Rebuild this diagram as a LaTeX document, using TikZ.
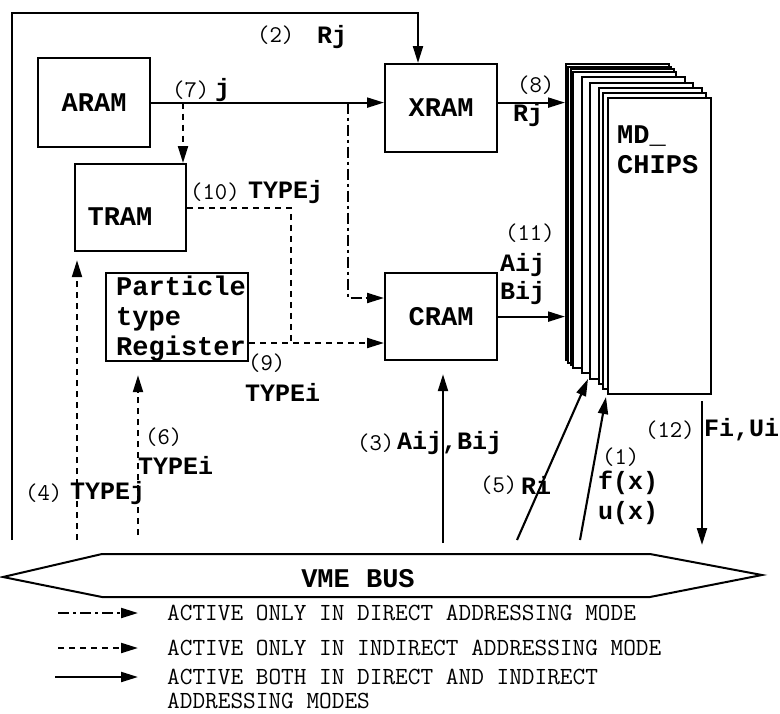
\documentclass[tikz,border=0pt]{standalone}
\usepackage{fontspec}
\newfontfamily\bmono{Liberation Mono}
\usetikzlibrary{arrows.meta}
\begin{document}
\begin{tikzpicture}[x=1pt,y=-1pt,
  box/.style={draw, line width=2.2pt, inner sep=0pt, anchor=north west},
  conn/.style={line width=2.1pt, -{Triangle[length=17pt,width=10pt]}},
  dline/.style={line width=2.1pt, dash pattern=on 6pt off 5pt},
  dsh/.style={conn, dash pattern=on 6pt off 5pt},
  dd/.style={conn, dash pattern=on 11pt off 4pt on 3pt off 4pt},
  lab/.style={font=\ttfamily\fontsize{24}{27}\selectfont, inner sep=0pt, anchor=west},
  blab/.style={font=\bmono\bfseries\fontsize{25}{27}\selectfont, inner sep=0pt, anchor=west},
  boxtxt/.style={font=\bmono\bfseries\fontsize{27}{30}\selectfont, inner sep=0pt},
  legtxt/.style={font=\ttfamily\fontsize{24.6}{27}\selectfont, inner sep=0pt, anchor=west},
]
\path[use as bounding box] (0,0) rectangle (780,713);

% boxes
\node[box, minimum width=112pt, minimum height=89pt, boxtxt] (ARAM) at (37,57) {ARAM};
\node[box, minimum width=112pt, minimum height=88pt, boxtxt] (XRAM) at (384,63) {XRAM};
\node[box, minimum width=111pt, minimum height=87pt] (TRAM) at (74,163) {};
\node[boxtxt] (tTRAM) at (120,217) {TRAM};
\node[box, minimum width=142pt, minimum height=88pt] (PTR) at (105,272) {};
\node[boxtxt, align=left, anchor=west] (tPTR) at (116,319) {Particle\\type\\Register};
\node[box, minimum width=112pt, minimum height=87pt, boxtxt] (CRAM) at (384,272) {CRAM};

% MD chips stack
\foreach \dx/\dy [count=\k] in {0/0,2/3,5/5,7/8,16/13,24/19,33/24,37/29}
  \node[box, line width=1.7pt, fill=white, minimum width=103pt, minimum height=296pt] (L\k) at (565+\dx,63+\dy) {};
\node[box, fill=white, minimum width=103pt, minimum height=296pt] (MD) at (607,97) {};
\node[boxtxt, align=left, anchor=north west] (tMD) at (617,126) {MD\_\\CHIPS};

% bus
\draw[line width=2pt] (3,577) -- (102,554) -- (650,554) -- (762,575) -- (650,597) -- (102,597) -- cycle;
\node[boxtxt] (bus) at (358,579) {VME BUS};

% helper coordinates
\coordinate (x183) at (183,0);
\coordinate (x348) at (348,0);
\coordinate (x291) at (291,0);
\coordinate (y298) at (0,298);
\coordinate (y343) at (0,343);
\coordinate (c2) at (418,13);
\coordinate (b2) at (12,540);
\coordinate (b3) at (443,543);
\coordinate (b5) at (517,540);
\coordinate (t5) at (588,379);
\coordinate (b1) at (580,540);
\coordinate (t1) at (606,397);
\coordinate (b12) at (702,545);
\coordinate (b4) at (77,540);
\coordinate (b6) at (138,535);
\coordinate (j7) at (ARAM.east -| x183);

% connectors
\draw[conn] (b2) |- (c2) -- (c2 |- XRAM.north);
\draw[conn] (ARAM.east) -- (ARAM.east -| XRAM.west);
\draw[conn] (XRAM.east |- ARAM.east) -- (ARAM.east -| L1.west);
\draw[dsh] (j7) -- (j7 |- TRAM.north);
\draw[dd] (ARAM.east -| x348) |- (CRAM.west |- y298);
\draw[dline] (TRAM.east) -| (x291 |- y343);
\draw[dsh] (PTR.east |- y343) -- (CRAM.west |- y343);
\draw[conn] (CRAM.east) -- (CRAM.east -| L1.west);
\draw[conn, shorten >=13pt] (b3) -- (b3 |- CRAM.south);
\draw[conn] (b5) -- (t5);
\draw[conn] (b1) -- (t1);
\draw[conn, shorten <=6pt] (MD.south -| b12) -- (b12);
\draw[dsh, shorten >=8pt] (b4) -- (b4 |- TRAM.south);
\draw[dsh, shorten >=13pt] (b6) -- (b6 |- PTR.south);

% labels
\node[lab] (l2) at (257,35) {(2)};
\node[blab] (l2b) at (317,37) {Rj};
\node[lab] (l7) at (172,90) {(7)};
\node[blab] (l7b) at (215,90) {j};
\node[lab] (l10) at (190,192) {(10)};
\node[blab] (l10b) at (248,192) {TYPEj};
\node[lab] (l8) at (517,85) {(8)};
\node[blab] (l8b) at (513,115) {Rj};
\node[lab] (l11) at (505,233) {(11)};
\node[blab] (l11a) at (500,265) {Aij};
\node[blab] (l11b) at (500,293) {Bij};
\node[lab] (l9) at (248,363) {(9)};
\node[blab] (l9b) at (245,392) {TYPEi};
\node[lab] (l6) at (145,437) {(6)};
\node[blab] (l6b) at (138,465) {TYPEi};
\node[lab] (l4) at (25,493) {(4)};
\node[blab] (l4b) at (70,493) {TYPEj};
\node[lab] (l3) at (357,443) {(3)};
\node[blab] (l3b) at (397,443) {Aij,Bij};
\node[lab] (l5) at (480,485) {(5)};
\node[blab] (l5b) at (521,485) {Ri};
\node[lab] (l1) at (602,457) {(1)};
\node[blab] (l1a) at (598,483) {f(x)};
\node[blab] (l1b) at (598,513) {u(x)};
\node[lab] (l12) at (645,430) {(12)};
\node[blab] (l12b) at (704,430) {Fi,Ui};

% legend
\coordinate (la1) at (58,613);
\coordinate (lb1) at (138,613);
\coordinate (la2) at (58,648);
\coordinate (lb2) at (138,648);
\coordinate (la3) at (55,677);
\coordinate (lb3) at (138,677);
\draw[dd] (la1) -- (lb1);
\draw[dsh] (la2) -- (lb2);
\draw[conn] (la3) -- (lb3);
\node[legtxt] (g1) at (167,613) {ACTIVE ONLY IN DIRECT ADDRESSING MODE};
\node[legtxt] (g2) at (167,648) {ACTIVE ONLY IN INDIRECT ADDRESSING MODE};
\node[legtxt] (g3) at (167,677) {ACTIVE BOTH IN DIRECT AND INDIRECT};
\node[legtxt] (g4) at (167,701) {ADDRESSING MODES};
\end{tikzpicture}
\end{document}
